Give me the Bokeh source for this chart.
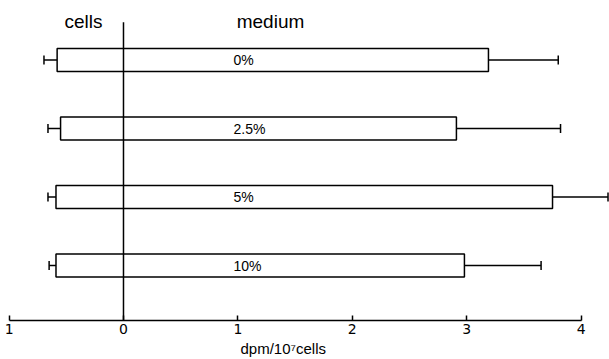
import numpy as np
from bokeh.plotting import figure
from bokeh.models import Range1d, FixedTicker, ColumnDataSource, Title
from bokeh.core.properties import value
from bokeh.embed import file_html
from bokeh.resources import INLINE

# ---- data ----
categories = ["10%", "5%", "2.5%", "0%"]          # bottom to top
cells = [-0.59, -0.59, -0.55, -0.58]               # dpm/10^7 cells, cell-associated (plotted leftwards)
cells_err = [0.06, 0.07, 0.11, 0.115]
medium = [2.98, 3.75, 2.91, 3.19]                  # dpm/10^7 cells, in medium
medium_err = [0.67, 0.485, 0.91, 0.61]
x_ticks = [-1, 0, 1, 2, 3, 4]
x_tick_labels = ["1", "0", "1", "2", "3", "4"]
x_label = "dpm/10\u2077cells"

ypos = np.arange(len(categories))
src = ColumnDataSource(dict(
    y=ypos, cat=categories,
    left=cells, right=medium,
    left_lo=np.array(cells) - np.array(cells_err),
    right_hi=np.array(medium) + np.array(medium_err),
))

Y0, Y1 = -0.803, 3.869
p = figure(frame_width=609, frame_height=320,
           x_range=Range1d(-1.075, 4.248), y_range=Range1d(Y0, Y1),
           output_backend="svg", toolbar_location=None,
           min_border_left=0, min_border_right=0, min_border_top=0, min_border_bottom=39,
           y_axis_location=None)
p.outline_line_color = None
p.xgrid.visible = False
p.ygrid.visible = False
p.background_fill_color = "white"

# error bars
p.segment(x0="left_lo", y0="y", x1="left", y1="y", source=src, line_color="black", line_width=1.5)
p.segment(x0="right", y0="y", x1="right_hi", y1="y", source=src, line_color="black", line_width=1.5)
p.scatter(x="left_lo", y="y", marker="dash", angle=np.pi / 2, size=9, source=src,
          line_color="black", line_width=1.5)
p.scatter(x="right_hi", y="y", marker="dash", angle=np.pi / 2, size=9, source=src,
          line_color="black", line_width=1.5)

# bars
p.hbar(y="y", left="left", right="right", height=0.336, source=src,
       fill_color="white", line_color="black", line_width=1.5)

# zero line
p.segment(x0=[0], y0=[Y0], x1=[0], y1=[3.552], line_color="black", line_width=1.5)

# bar labels
p.text(x=[0.962] * len(categories), y=ypos, text=categories, text_align="left",
       text_baseline="middle", text_font=value("Liberation Sans"), text_font_size="14px",
       text_color="black")

# headings
p.text(x=[-0.35, 1.285], y=[3.562, 3.562], text=["cells", "medium"], text_align="center",
       text_baseline="middle", text_font=value("Liberation Sans"), text_font_size="19px",
       text_color="black")

ax = p.xaxis[0]
ax.ticker = FixedTicker(ticks=x_ticks)
ax.major_label_overrides = {t: l for t, l in zip(x_ticks, x_tick_labels)}
ax.bounds = (-1, 4)
ax.major_tick_in = 5
ax.major_tick_out = 0
ax.minor_tick_line_color = None
ax.axis_line_width = 1.5
ax.major_tick_line_width = 1.5
ax.axis_line_color = "black"
ax.major_tick_line_color = "black"
ax.major_label_standoff = 3
ax.major_label_text_font = "DejaVu Sans"
ax.major_label_text_font_size = "14px"
ax.major_label_text_color = "black"

p.add_layout(Title(text=x_label, align="left", offset=240, standoff=3,
                   text_font="Liberation Sans", text_font_size="15px",
                   text_font_style="normal", text_color="black"), "below")

open("out.html", "w").write(file_html(p, INLINE))
